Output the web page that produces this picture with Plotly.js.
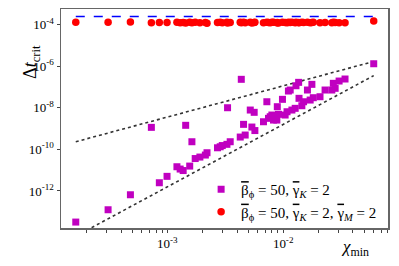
<!DOCTYPE html>
<html>
<head>
<meta charset="utf-8">
<script src="https://cdn.plot.ly/plotly-3.0.1.min.js"></script>
<style>html,body{margin:0;padding:0;background:#fff}#chart{width:399px;height:266px}</style>
</head>
<body>
<div id="chart"></div>
<script>
// chi_min values shared by both series
var chiMin = [1.62e-4,3.08e-4,4.80e-4,7.28e-4,8.53e-4,9.94e-4,1.21e-3,1.29e-3,1.37e-3,1.44e-3,
  1.56e-3,1.63e-3,1.74e-3,1.91e-3,2.13e-3,2.20e-3,2.71e-3,2.86e-3,2.98e-3,3.27e-3,
  3.31e-3,3.49e-3,4.26e-3,4.35e-3,4.55e-3,4.70e-3,5.20e-3,5.37e-3,5.62e-3,5.70e-3,
  6.76e-3,7.23e-3,7.47e-3,7.73e-3,7.99e-3,8.25e-3,8.82e-3,8.90e-3,9.11e-3,9.86e-3,
  1.04e-2,1.08e-2,1.11e-2,1.15e-2,1.19e-2,1.27e-2,1.29e-2,1.36e-2,1.37e-2,1.45e-2,
  1.50e-2,1.62e-2,1.71e-2,1.77e-2,1.82e-2,2.08e-2,2.30e-2,2.63e-2,2.71e-2,2.81e-2,
  3.04e-2,3.42e-2,6.05e-2];
// Delta t_crit, beta=50, gammaK=2
var dtK = [3.2e-14,1.25e-13,6.57e-13,1.14e-9,2.48e-12,5.04e-12,1.46e-11,1.13e-11,9.57e-12,1.43e-9,
  1.57e-11,2.32e-10,3.61e-11,4.26e-11,5.32e-11,6.87e-11,1.19e-10,1.33e-10,1.52e-10,1.74e-10,
  1.0e-8,2.32e-10,3.90e-10,2.32e-7,1.59e-9,4.87e-10,7.75e-9,1.18e-9,6.01e-9,8.0e-10,
  2.12e-9,1.94e-8,3.09e-9,3.69e-9,4.46e-9,2.56e-9,2.56e-9,1.12e-8,4.82e-9,2.53e-8,
  4.46e-9,6.42e-9,6.35e-8,7.10e-8,7.75e-9,9.36e-9,1.14e-7,1.66e-7,2.83e-8,1.25e-8,
  1.94e-8,7.10e-8,2.34e-8,1.33e-7,3.03e-8,3.38e-8,7.10e-8,7.10e-8,1.49e-7,8.57e-8,
  1.92e-7,2.40e-7,1.30e-6];
// Delta t_crit, beta=50, gammaK=2, gammaM=2
var dtKM = [1.30e-4,1.28e-4,1.33e-4,1.22e-4,1.25e-4,1.26e-4,1.30e-4,1.20e-4,1.25e-4,1.18e-4,
  1.28e-4,1.22e-4,1.30e-4,1.20e-4,1.26e-4,1.16e-4,1.24e-4,1.30e-4,1.22e-4,1.27e-4,
  1.19e-4,1.25e-4,1.30e-4,1.21e-4,1.27e-4,1.23e-4,1.30e-4,1.18e-4,1.25e-4,1.28e-4,
  1.22e-4,1.29e-4,1.24e-4,1.20e-4,1.27e-4,1.30e-4,1.23e-4,1.26e-4,1.19e-4,1.28e-4,
  1.25e-4,1.21e-4,1.29e-4,1.24e-4,1.27e-4,1.20e-4,1.30e-4,1.25e-4,1.22e-4,1.28e-4,
  1.24e-4,1.27e-4,1.20e-4,1.26e-4,1.29e-4,1.23e-4,1.25e-4,1.21e-4,1.28e-4,1.24e-4,
  1.20e-4,1.22e-4,1.47e-4];
// reference guide lines (end points)
var guideX = [1.62e-4, 6.05e-2];
var upperGuide = [2.32e-10, 1.67e-6];
var lowerGuide = [6.7e-15, 3.49e-7];
var limitLine = [2.4e-4, 2.4e-4];
// ticks
var xTickVals = [1e-3, 1e-2];
var xTickText = ["10<sup>-3</sup>", "10<sup>-2</sup>"];
var xMinorVals = [2e-4,3e-4,4e-4,5e-4,6e-4,7e-4,8e-4,9e-4,2e-3,3e-3,4e-3,5e-3,6e-3,7e-3,8e-3,9e-3,2e-2,3e-2,4e-2,5e-2,6e-2,7e-2,8e-2];
var yTickVals = [1e-12,1e-10,1e-8,1e-6,1e-4];
var yTickText = ["10<sup>-12</sup>","10<sup>-10</sup>","10<sup>-8</sup>","10<sup>-6</sup>","10<sup>-4</sup>"];
var OB = '<span style="text-decoration:overline">', CB = '</span>';
var seriesNames = [OB + "β" + CB + "<sub>ϕ</sub> = 50, " + OB + "γ" + CB + "<sub><i>K</i></sub> = 2",
                   OB + "β" + CB + "<sub>ϕ</sub> = 50, " + OB + "γ" + CB + "<sub><i>K</i></sub> = 2, " + OB + "γ" + CB + "<sub><i>M</i></sub> = 2"];

var serif = "Liberation Serif, Times New Roman, serif";

var traces = [
  {x: guideX, y: upperGuide, mode: "lines", line: {color: "#333", width: 1.6, dash: "dot"}, showlegend: false, hoverinfo: "skip"},
  {x: guideX, y: lowerGuide, mode: "lines", line: {color: "#333", width: 1.6, dash: "dot"}, showlegend: false, hoverinfo: "skip"},
  {x: guideX, y: limitLine, mode: "lines", line: {color: "#0000ff", width: 1.5, dash: "dash"}, showlegend: false, hoverinfo: "skip"},
  {x: chiMin, y: dtK, mode: "markers", name: seriesNames[0], marker: {symbol: "square", size: 7, color: "#c000c0"}},
  {x: chiMin, y: dtKM, mode: "markers", name: seriesNames[1], marker: {symbol: "circle", size: 7.5, color: "#ff0000"}}
];

var layout = {
  width: 399, height: 266,
  margin: {l: 60.5, r: 11, t: 9, b: 38},
  paper_bgcolor: "#fff", plot_bgcolor: "#fff",
  font: {family: serif, size: 12, color: "#000"},
  showlegend: true,
  legend: {x: 0.982, xanchor: "right", y: 0.0, yanchor: "bottom", bgcolor: "rgba(255,255,255,0)",
           font: {family: serif, size: 15, color: "#000"}, itemwidth: 30, tracegroupgap: 0},
  xaxis: {type: "log", range: [-3.918, -1.095], showgrid: false, zeroline: false,
          showline: true, linecolor: "#666", linewidth: 1.5, mirror: true,
          ticks: "outside", ticklen: 3, tickwidth: 1, tickcolor: "#444",
          tickmode: "array", tickvals: xTickVals, ticktext: xTickText,
          tickfont: {family: serif, size: 13},
          minor: {tickmode: "array", tickvals: xMinorVals, ticks: "outside", ticklen: 3, tickwidth: 1, tickcolor: "#444", showgrid: false}},
  yaxis: {type: "log", range: [-13.78, -3.255], showgrid: false, zeroline: false,
          showline: true, linecolor: "#666", linewidth: 1.5, mirror: true,
          ticks: "outside", ticklen: 3, tickwidth: 1, tickcolor: "#444",
          tickmode: "array", tickvals: yTickVals, ticktext: yTickText,
          tickfont: {family: serif, size: 13}},
  annotations: [
    {text: "Δ<i>t</i><sub>crit</sub>", xref: "paper", yref: "paper", x: -0.13, y: 0.845,
     textangle: -90, showarrow: false, font: {family: serif, size: 18}},
    {text: "<i>χ</i><sub>min</sub>", xref: "paper", yref: "paper", x: 0.9, y: -0.09,
     xanchor: "center", yanchor: "middle", showarrow: false, font: {family: serif, size: 17}}
  ]
};

Plotly.newPlot("chart", traces, layout, {displayModeBar: false, staticPlot: true});
</script>
</body>
</html>
